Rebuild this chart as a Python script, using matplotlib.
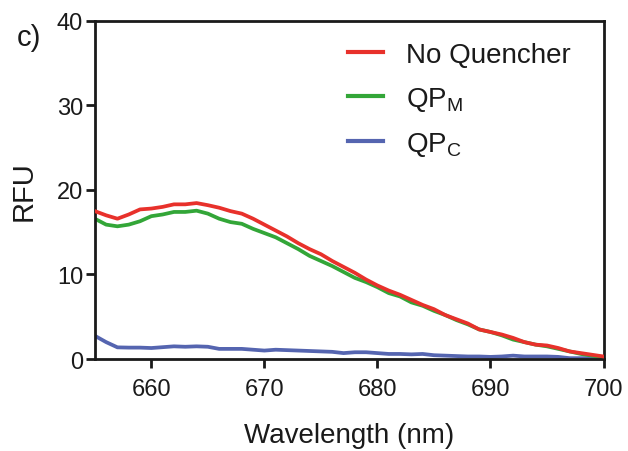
import numpy as np
import matplotlib
matplotlib.use("Agg")
import matplotlib.pyplot as plt

plt.rcParams["font.family"] = ["Liberation Sans", "DejaVu Sans"]
plt.rcParams["mathtext.fontset"] = "custom"
plt.rcParams["mathtext.rm"] = "Liberation Sans"
plt.rcParams["mathtext.it"] = "Liberation Sans"

wavelength = list(range(655, 701))

no_quencher = [17.5, 17.0, 16.6, 17.1, 17.7, 17.8, 18.0, 18.3, 18.3, 18.45,
               18.2, 17.9, 17.5, 17.2, 16.6, 15.9, 15.2, 14.5, 13.7, 13.0,
               12.4, 11.6, 10.9, 10.2, 9.4, 8.7, 8.1, 7.6, 7.0, 6.4,
               5.9, 5.2, 4.7, 4.2, 3.5, 3.2, 2.9, 2.5, 2.0, 1.7,
               1.6, 1.3, 0.9, 0.7, 0.5, 0.3]

qp_m = [16.6, 15.9, 15.7, 15.9, 16.3, 16.9, 17.1, 17.4, 17.4, 17.55,
        17.2, 16.6, 16.2, 16.0, 15.4, 14.9, 14.4, 13.7, 13.0, 12.2,
        11.6, 11.0, 10.3, 9.6, 9.1, 8.5, 7.8, 7.4, 6.7, 6.3,
        5.7, 5.2, 4.6, 4.1, 3.5, 3.2, 2.8, 2.3, 2.0, 1.7,
        1.5, 1.2, 0.9, 0.6, 0.4, 0.2]

qp_c = [2.75, 2.0, 1.38, 1.35, 1.35, 1.3, 1.4, 1.5, 1.45, 1.5,
        1.45, 1.2, 1.2, 1.2, 1.1, 1.0, 1.1, 1.05, 1.0, 0.95,
        0.9, 0.85, 0.7, 0.8, 0.8, 0.7, 0.6, 0.6, 0.55, 0.6,
        0.45, 0.4, 0.35, 0.3, 0.3, 0.25, 0.3, 0.4, 0.3, 0.3,
        0.3, 0.25, 0.1, 0.1, 0.1, 0.1]

x_ticks = [660, 670, 680, 690, 700]
y_ticks = [0, 10, 20, 30, 40]

ink = "#1a1a1a"

fig = plt.figure(figsize=(6.28, 4.52), dpi=100)
ax = fig.add_axes([0.151, 0.2035, 0.810, 0.748])

lw = 2.7
ax.plot(wavelength, no_quencher, color="#e8312b", lw=lw, label="No Quencher", zorder=3)
ax.plot(wavelength, qp_m, color="#33a638", lw=lw, label="QP$_\\mathregular{M}$", zorder=2)
ax.plot(wavelength, qp_c, color="#5565b0", lw=lw, label="QP$_\\mathregular{C}$", zorder=1)

ax.set_xlim(655, 700)
ax.set_ylim(0, 40)
ax.set_xticks(x_ticks)
ax.set_yticks(y_ticks)

for s in ax.spines.values():
    s.set_linewidth(2.0)
    s.set_color(ink)

ax.tick_params(direction="out", length=6.5, width=2.0, labelsize=17,
               color=ink, labelcolor=ink)
ax.tick_params(axis="x", pad=7)
ax.tick_params(axis="y", pad=2)

ax.set_xlabel("Wavelength (nm)", fontsize=20, color=ink, labelpad=16)
ax.set_ylabel("RFU", fontsize=21, color=ink, labelpad=14)

fig.text(0.027, 0.947, "c)", fontsize=21, color=ink, va="top", ha="left")

leg = ax.legend(loc="upper left", bbox_to_anchor=(0.476, 0.97), frameon=False,
                fontsize=20, handlelength=1.25, handletextpad=0.85,
                labelspacing=0.6, borderaxespad=0)
for h in leg.get_lines():
    h.set_linewidth(3.0)
for t in leg.get_texts():
    t.set_color(ink)

fig.savefig("out.png", dpi=100)
